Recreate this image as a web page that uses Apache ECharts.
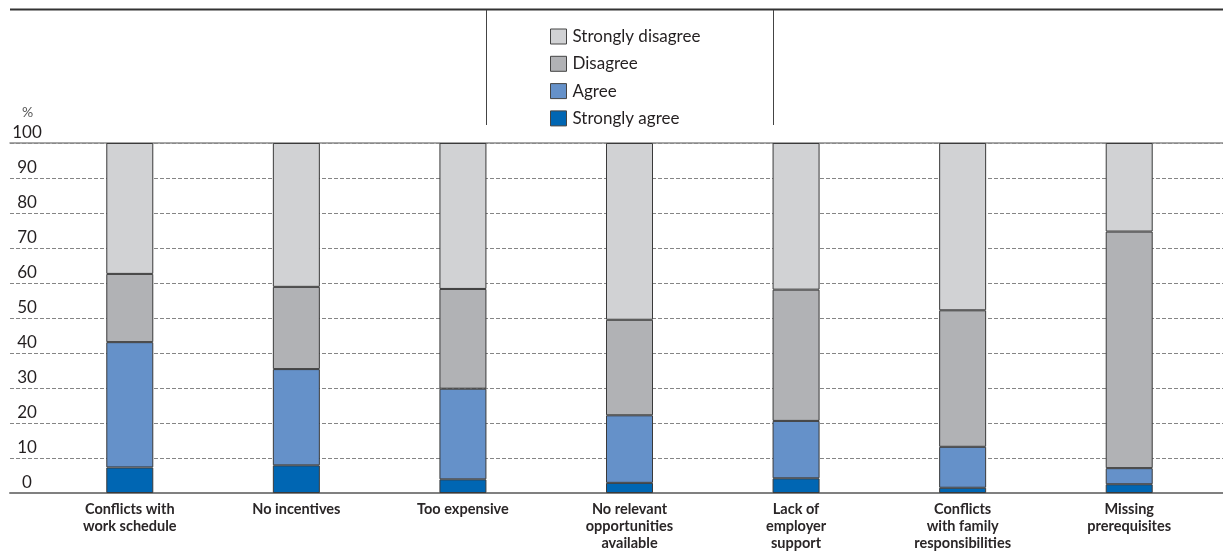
<!DOCTYPE html>
<html>
<head>
<meta charset="utf-8">
<script src="https://cdn.jsdelivr.net/npm/echarts@6/dist/echarts.min.js"></script>
<style>
html,body{margin:0;padding:0;background:#fff;}
#main{width:1223px;height:555px;}
</style>
</head>
<body>
<div id="main"></div>
<script>
var categories = [
  'Conflicts with\nwork schedule',
  'No incentives',
  'Too expensive',
  'No relevant\nopportunities\navailable',
  'Lack of\nemployer\nsupport',
  'Conflicts\nwith family\nresponsibilities',
  'Missing\nprerequisites'
];
var stronglyAgree    = [7.3, 7.9, 3.9, 2.9, 4.2, 1.5, 2.5];
var agree            = [35.8, 27.5, 25.9, 19.3, 16.4, 11.7, 4.6];
var disagree         = [19.5, 23.5, 28.5, 27.3, 37.5, 39.0, 67.6];
var stronglyDisagree = [37.4, 41.1, 41.7, 50.5, 41.9, 47.8, 25.3];
var yTicks = [0, 10, 20, 30, 40, 50, 60, 70, 80, 90, 100];

var FONT = 'Lato, "Open Sans", sans-serif';
var colors = {
  sa: '#0066b3',
  a: '#6591c9',
  d: '#b1b2b5',
  sd: '#d1d2d4'
};
var border = {borderColor: '#3a3a3a', borderWidth: 1};

var chart = echarts.init(document.getElementById('main'), null, {renderer: 'canvas'});

function bar(name, data, color) {
  return {
    name: name,
    type: 'bar',
    stack: 'total',
    xAxisIndex: 2,
    yAxisIndex: 1,
    barWidth: 47,
    data: data,
    itemStyle: Object.assign({color: color}, border),
    emphasis: {disabled: true}
  };
}

chart.setOption({
  animation: false,
  backgroundColor: '#fff',
  textStyle: {fontFamily: FONT},
  grid: [
    {left: 10, right: 0, top: 143, bottom: 62, containLabel: false},
    {left: 46.5, right: 10.5, top: 143, bottom: 62, containLabel: false}
  ],
  legend: {
    orient: 'vertical',
    left: 550,
    top: 28,
    padding: 0,
    itemWidth: 16,
    itemHeight: 15,
    itemGap: 10.3,
    icon: 'rect',
    data: ['Strongly disagree', 'Disagree', 'Agree', 'Strongly agree'],
    textStyle: {fontFamily: FONT, fontSize: 17, color: '#231f20', padding: [0, 0, 0, 1]},
    itemStyle: {borderColor: '#444', borderWidth: 1}
  },
  xAxis: [
    {
      gridIndex: 0, type: 'value', min: 0, max: 1, position: 'bottom',
      axisLine: {show: true, lineStyle: {color: '#808080', width: 2}},
      axisTick: {show: false}, axisLabel: {show: false}, splitLine: {show: false}
    },
    {
      gridIndex: 0, type: 'value', min: 0, max: 1, position: 'top',
      axisLine: {show: true, lineStyle: {color: '#8a8a8a', width: 1.5}},
      axisTick: {show: false}, axisLabel: {show: false}, splitLine: {show: false}
    },
    {
      gridIndex: 1, type: 'category', data: categories,
      axisLine: {show: false}, axisTick: {show: false},
      axisLabel: {
        interval: 0, margin: 8, fontFamily: FONT, fontSize: 14.5,
        fontWeight: 'bold', color: '#2a2627', lineHeight: 17
      }
    }
  ],
  yAxis: [
    {
      gridIndex: 0, type: 'value', min: 0, max: 100, interval: 10,
      axisLine: {show: false}, axisTick: {show: false},
      axisLabel: {
        inside: true, margin: 17, align: 'center', verticalAlign: 'bottom',
        padding: [0, 0, 2, 0], fontFamily: FONT, fontSize: 17, color: '#231f20',
        formatter: function (v) { return yTicks.indexOf(v) >= 0 ? String(v) : ''; }
      },
      splitLine: {show: true, lineStyle: {color: '#858585', width: 1, type: [4, 2]}}
    },
    {
      gridIndex: 1, type: 'value', min: 0, max: 100, interval: 10, show: false
    }
  ],
  graphic: [
    {type: 'line', shape: {x1: 10, y1: 9.5, x2: 1223, y2: 9.5}, style: {stroke: '#333', lineWidth: 2}, silent: true},
    {type: 'line', shape: {x1: 486.5, y1: 10, x2: 486.5, y2: 125}, style: {stroke: '#444', lineWidth: 1}, silent: true},
    {type: 'line', shape: {x1: 773.5, y1: 10, x2: 773.5, y2: 125}, style: {stroke: '#444', lineWidth: 1}, silent: true},
    {type: 'text', left: 22, top: 105, style: {text: '%', font: '14px ' + FONT, fill: '#555'}, silent: true}
  ],
  series: [
    bar('Strongly agree', stronglyAgree, colors.sa),
    bar('Agree', agree, colors.a),
    bar('Disagree', disagree, colors.d),
    bar('Strongly disagree', stronglyDisagree, colors.sd)
  ]
});
</script>
</body>
</html>
